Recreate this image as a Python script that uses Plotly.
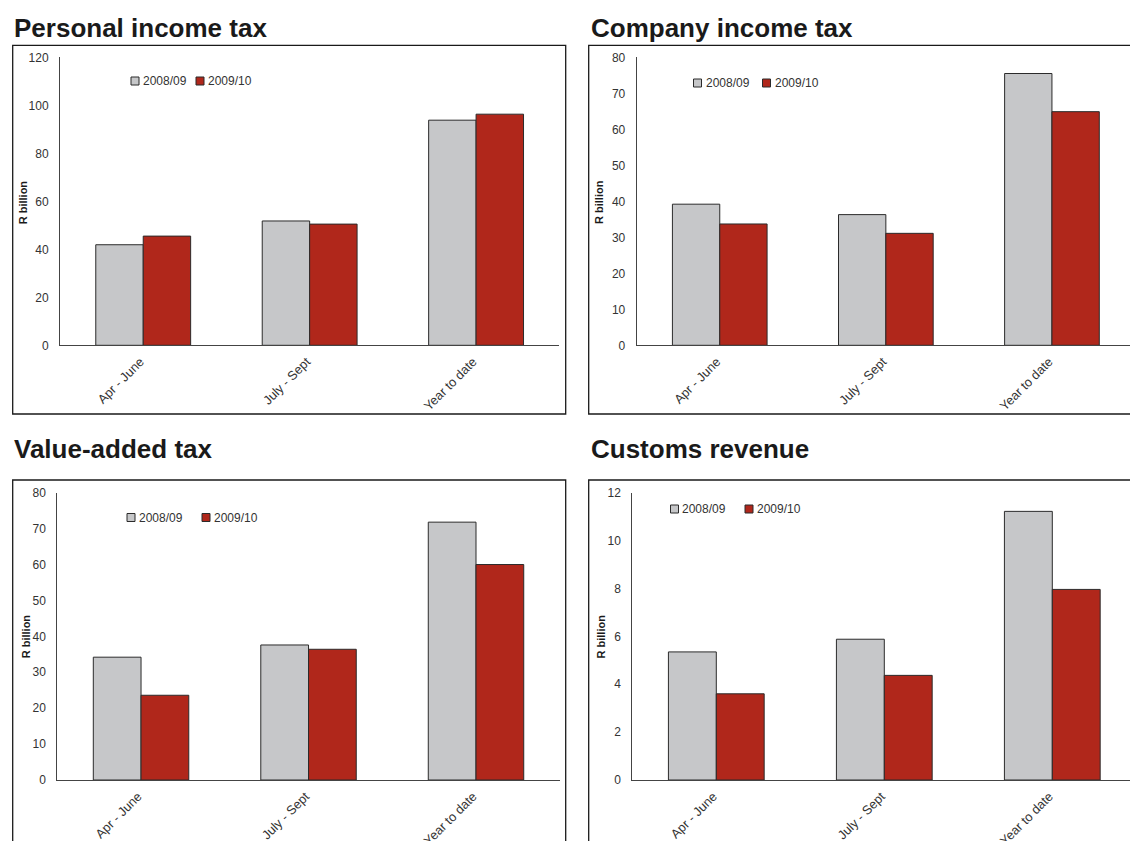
import plotly.graph_objects as go

categories = ["Apr - June", "July - Sept", "Year to date"]
series_names = ["2008/09", "2009/10"]

personal_0809 = [41.9, 51.8, 93.8]
personal_0910 = [45.5, 50.5, 96.3]
company_0809 = [39.2, 36.3, 75.5]
company_0910 = [33.7, 31.1, 64.9]
vat_0809 = [34.2, 37.6, 71.8]
vat_0910 = [23.6, 36.4, 60.0]
customs_0809 = [5.35, 5.88, 11.22]
customs_0910 = [3.6, 4.37, 7.96]

titles = ["Personal income tax", "Company income tax", "Value-added tax", "Customs revenue"]
y_title = "R billion"

W, H = 1130, 841
FONT = "Liberation Sans, Arial, Helvetica, sans-serif"
GREY = "#c6c7c9"
RED = "#b0271b"
EDGE = "#2b2b2b"
TXT = "#333333"


def px(x):
    return x / W


def py(y):
    return 1 - y / H


fig = go.Figure()

panels = [
    dict(a=personal_0809, b=personal_0910, ax="", xd=[60, 559.3], yd=[57.3, 345.3],
         yr=[0, 120], dt=20, xr=[-0.5, 2.5]),
    dict(a=company_0809, b=company_0910, ax="2", xd=[636.7, 1130], yd=[57.3, 345.3],
         yr=[0, 80], dt=10, xr=[-0.5, (1130 - 720) / 166]),
    dict(a=vat_0809, b=vat_0910, ax="3", xd=[57.3, 559.75], yd=[492.7, 780],
         yr=[0, 80], dt=10, xr=[-0.5, 2.5]),
    dict(a=customs_0809, b=customs_0910, ax="4", xd=[632.3, 1130], yd=[492.7, 780],
         yr=[0, 12], dt=2, xr=[-0.5, (1130 - 716.3) / 168]),
]

layout_axes = {}
for p in panels:
    ax = p["ax"]
    for vals, name, col in [(p["a"], series_names[0], GREY), (p["b"], series_names[1], RED)]:
        fig.add_trace(go.Bar(
            x=categories, y=vals, name=name, xaxis="x" + ax, yaxis="y" + ax,
            marker=dict(color=col, line=dict(color=EDGE, width=1)),
            showlegend=False,
        ))
    layout_axes["xaxis" + ax] = dict(
        domain=[px(p["xd"][0]), px(p["xd"][1])], anchor="y" + ax,
        range=p["xr"], type="category", showgrid=False, zeroline=False,
        showline=True, linecolor="#444444", linewidth=1, ticks="",
        tickangle=-45, ticklabelshift=-3, ticklabelstandoff=3,
        tickfont=dict(family=FONT, size=12.8, color=TXT),
        fixedrange=True,
    )
    layout_axes["yaxis" + ax] = dict(
        domain=[py(p["yd"][1]), py(p["yd"][0])], anchor="x" + ax,
        range=p["yr"], dtick=p["dt"], showgrid=False, zeroline=False,
        showline=True, linecolor="#444444", linewidth=1, ticks="",
        ticklabelstandoff=8,
        tickfont=dict(family=FONT, size=12, color=TXT), fixedrange=True,
    )

shapes = []
annotations = []

# panel frames
frames = [(12.7, 565.7, 45.3, 414), (588.7, 1140, 45.3, 414),
          (12.7, 565.7, 480, 860), (588.7, 1140, 480, 860)]
for x0, x1, y0, y1 in frames:
    shapes.append(dict(type="rect", xref="paper", yref="paper",
                       x0=px(x0), x1=px(x1), y0=py(y1), y1=py(y0),
                       line=dict(color="#1a1a1a", width=1.3), fillcolor="rgba(0,0,0,0)",
                       layer="below"))

# titles
title_pos = [(12, 28), (589, 28), (12, 449), (589, 449)]
for t, (x, y) in zip(titles, title_pos):
    annotations.append(dict(text="<b>" + t + "</b>", xref="paper", yref="paper",
                            x=px(x), y=py(y), xanchor="left", yanchor="middle",
                            showarrow=False,
                            font=dict(family=FONT, size=26, color="#1a1a1a")))

# y-axis titles
ytitle_pos = [(23.3, 202), (599, 202), (25.8, 636.5), (600, 636.5)]
for x, y in ytitle_pos:
    annotations.append(dict(text="<b>" + y_title + "</b>", xref="paper", yref="paper",
                            x=px(x), y=py(y), xanchor="center", yanchor="middle",
                            textangle=-90, showarrow=False,
                            font=dict(family=FONT, size=11, color="#1a1a1a")))

# legends (swatch left x, text left x) per series, and center y
legend_pos = [
    ([(131, 141.5), (196, 207)], 81),
    ([(693.5, 704.5), (762.5, 773.5)], 83),
    ([(127, 137.5), (202, 213)], 517.5),
    ([(670.5, 680.5), (745, 756)], 509),
]
for items, yc in legend_pos:
    for (sx, tx), name, col in zip(items, series_names, [GREY, RED]):
        shapes.append(dict(type="rect", xref="paper", yref="paper",
                           x0=px(sx), x1=px(sx + 8), y0=py(yc + 4), y1=py(yc - 4),
                           line=dict(color=EDGE, width=1), fillcolor=col))
        annotations.append(dict(text=name, xref="paper", yref="paper",
                                x=px(tx), y=py(yc), xanchor="left", yanchor="middle",
                                showarrow=False, borderpad=0,
                                font=dict(family=FONT, size=12, color=TXT)))

fig.update_layout(
    width=W, height=H, template="none",
    margin=dict(l=0, r=0, t=0, b=0, pad=0),
    paper_bgcolor="white", plot_bgcolor="rgba(0,0,0,0)",
    barmode="group", bargap=0.43, bargroupgap=0,
    showlegend=False, shapes=shapes, annotations=annotations,
    font=dict(family=FONT, color=TXT),
    **layout_axes,
)

fig.write_html("out.html", config={"displayModeBar": False})
